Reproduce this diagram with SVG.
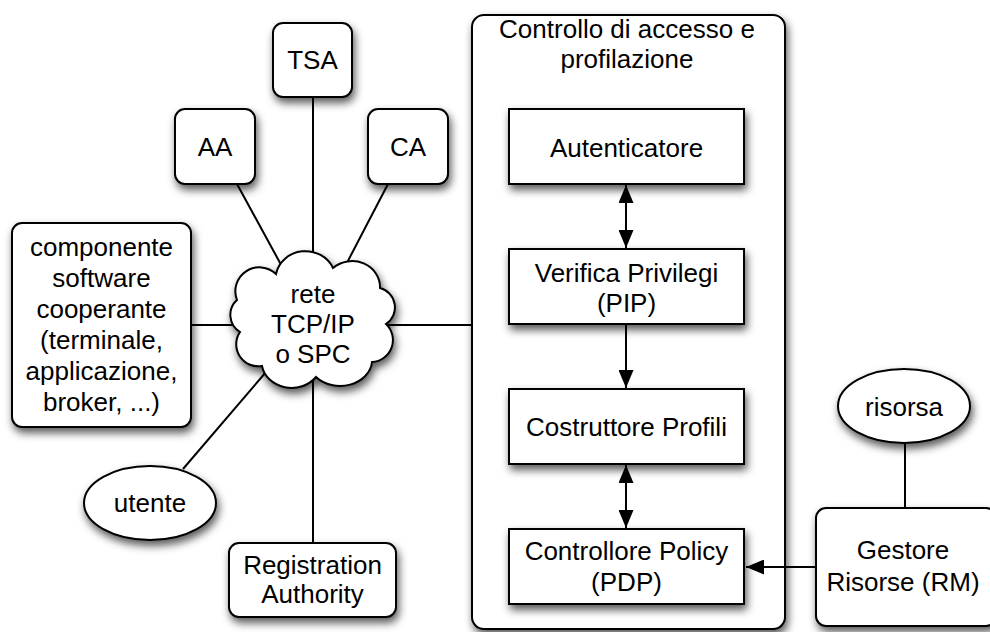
<svg xmlns="http://www.w3.org/2000/svg" width="990" height="632" viewBox="0 0 990 632">
  <defs>
    <filter id="shadow" x="-20%" y="-20%" width="140%" height="150%">
      <feDropShadow dx="2" dy="5" stdDeviation="4" flood-color="#000" flood-opacity="0.65"/>
    </filter>
    <marker id="head" viewBox="0 0 18 15" markerWidth="18" markerHeight="15" refX="18" refY="7.5" orient="auto-start-reverse" markerUnits="userSpaceOnUse">
      <path d="M0,0 L18,7.5 L0,15 Z" fill="#000"/>
    </marker>
  </defs>
  <style>
    .shape { fill: #fff; stroke: #000; stroke-width: 2; filter: url(#shadow); }
    .link { fill: none; stroke: #000; stroke-width: 2; }
    text { font-family: "Liberation Sans", Arial, Helvetica, sans-serif; font-size: 26px; fill: #000; text-anchor: middle; }
  </style>

  <rect width="990" height="632" fill="#fff"/>

  <!-- access control container -->
  <g id="container">
    <rect class="shape" x="472" y="15" width="313" height="614" rx="12"/>
    <text x="627" y="38">Controllo di accesso e</text>
    <text x="627" y="68">profilazione</text>
  </g>

  <!-- connectors -->
  <g id="connectors">
    <line class="link" x1="237" y1="184" x2="285" y2="272"/>
    <line class="link" x1="313" y1="97" x2="313" y2="272"/>
    <line class="link" x1="388" y1="184" x2="338" y2="280"/>
    <line class="link" x1="191" y1="325" x2="240" y2="325"/>
    <line class="link" x1="385" y1="325" x2="472" y2="325"/>
    <line class="link" x1="266" y1="372" x2="183" y2="469"/>
    <line class="link" x1="313" y1="375" x2="313" y2="543"/>
    <line class="link" x1="905" y1="443" x2="905" y2="508"/>
    <line class="link" x1="626" y1="185" x2="626" y2="248" marker-start="url(#head)" marker-end="url(#head)"/>
    <line class="link" x1="626" y1="325" x2="626" y2="388" marker-end="url(#head)"/>
    <line class="link" x1="626" y1="465" x2="626" y2="528" marker-start="url(#head)" marker-end="url(#head)"/>
    <line class="link" x1="816" y1="567" x2="746" y2="567" marker-end="url(#head)"/>
  </g>

  <g id="tsa">
    <rect class="shape" x="273" y="23" width="79" height="74" rx="10"/>
    <text x="312.5" y="69">TSA</text>
  </g>
  <g id="aa">
    <rect class="shape" x="175" y="109" width="80" height="75" rx="10"/>
    <text x="215" y="156">AA</text>
  </g>
  <g id="ca">
    <rect class="shape" x="368" y="109" width="80" height="75" rx="10"/>
    <text x="408" y="156">CA</text>
  </g>

  <g id="componente">
    <rect class="shape" x="12" y="223" width="179" height="204" rx="10"/>
    <text x="101.5" y="256">componente</text>
    <text x="101.5" y="287">software</text>
    <text x="101.5" y="318">cooperante</text>
    <text x="101.5" y="349">(terminale,</text>
    <text x="101.5" y="380">applicazione,</text>
    <text x="101.5" y="411">broker, ...)</text>
  </g>

  <g id="rete">
    <path class="shape" d="M237,300 A24 24 0 0 1 276,274 A30 28 0 0 1 333,268 A28 26 0 0 1 380,288 A20 20 0 0 1 386,324 A22 22 0 0 1 372,362 A32 26 0 0 1 316,377 A30 26 0 0 1 262,366 A22 22 0 0 1 240,332 A20 20 0 0 1 237,300 Z"/>
    <text x="313" y="303">rete</text>
    <text x="313" y="333">TCP/IP</text>
    <text x="313" y="363">o SPC</text>
  </g>

  <g id="utente">
    <ellipse class="shape" cx="150" cy="503" rx="66" ry="37"/>
    <text x="150" y="512">utente</text>
  </g>

  <g id="registration-authority">
    <rect class="shape" x="229" y="543" width="167" height="74" rx="10"/>
    <text x="312.5" y="574">Registration</text>
    <text x="312.5" y="603">Authority</text>
  </g>

  <g id="autenticatore">
    <rect class="shape" x="509" y="109" width="235" height="75"/>
    <text x="626.5" y="157">Autenticatore</text>
  </g>
  <g id="verifica-privilegi">
    <rect class="shape" x="509" y="249" width="235" height="75"/>
    <text x="626.5" y="282">Verifica Privilegi</text>
    <text x="626.5" y="312">(PIP)</text>
  </g>
  <g id="costruttore-profili">
    <rect class="shape" x="509" y="389" width="235" height="75"/>
    <text x="626.5" y="436">Costruttore Profili</text>
  </g>
  <g id="controllore-policy">
    <rect class="shape" x="509" y="529" width="235" height="75"/>
    <text x="626.5" y="560">Controllore Policy</text>
    <text x="626.5" y="591">(PDP)</text>
  </g>

  <g id="risorsa">
    <ellipse class="shape" cx="904" cy="406" rx="66" ry="37"/>
    <text x="904" y="416">risorsa</text>
  </g>

  <g id="gestore-risorse">
    <rect class="shape" x="816" y="508" width="180" height="118" rx="10"/>
    <text x="903" y="559">Gestore</text>
    <text x="903" y="591">Risorse (RM)</text>
  </g>
</svg>
